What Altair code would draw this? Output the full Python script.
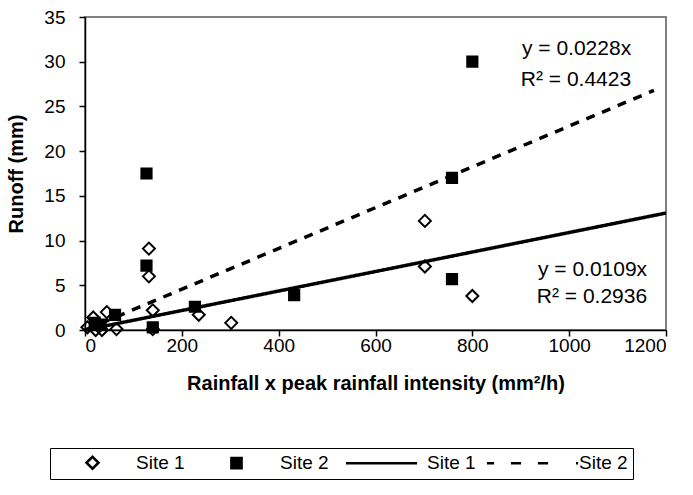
import altair as alt
import pandas as pd

# ---- data ----
site1_x = [5, 17, 22, 35, 45, 65, 132, 132, 140, 140, 235, 302, 702, 702, 800]
site1_y = [0.3, 1.4, 0.0, 0.0, 2.0, 0.1, 9.1, 6.0, 2.2, 0.1, 1.7, 0.8, 12.2, 7.1, 3.8]
site2_x = [20, 32, 62, 127, 127, 140, 227, 432, 758, 758, 800]
site2_y = [0.8, 0.6, 1.7, 17.5, 7.2, 0.3, 2.6, 3.9, 17.0, 5.7, 30.0]

trend_names = ["Site 1 trend", "Site 2 trend"]
trend_slopes = [0.0109, 0.0228]
trend_r2 = [0.2936, 0.4423]
trend_x_end = [1200, 1175]

# equation label anchors (data units)
eq_x = [1161, 1128]
eq_y1 = [6.0, 30.8]
eq_y2 = [3.0, 27.3]

x_ticks = [0, 200, 400, 600, 800, 1000, 1200]
y_ticks = [0, 5, 10, 15, 20, 25, 30, 35]

keys = ["Site 1 markers", "Site 2 markers", "Site 1 trend", "Site 2 trend"]
FONT = "Liberation Sans"

pts = pd.DataFrame({
    "x": site1_x + site2_x,
    "y": site1_y + site2_y,
    "series": ["Site 1 markers"] * len(site1_x) + ["Site 2 markers"] * len(site2_x),
})

fit_rows = []
for name, s, xe in zip(trend_names, trend_slopes, trend_x_end):
    fit_rows.append({"x": 0, "y": 0.0, "series": name})
    fit_rows.append({"x": xe, "y": s * xe, "series": name})
fit = pd.DataFrame(fit_rows)

ann_rows = []
for s, r2, ex, y1, y2 in zip(trend_slopes, trend_r2, eq_x, eq_y1, eq_y2):
    ann_rows.append({"x": ex, "y": y1, "text": f"y = {s}x"})
    ann_rows.append({"x": ex, "y": y2, "text": f"R² = {r2}"})
ann = pd.DataFrame(ann_rows)

xscale = alt.Scale(domain=[0, 1200], nice=False)
yscale = alt.Scale(domain=[0, 35], nice=False)

xenc = alt.X("x:Q", scale=xscale, axis=alt.Axis(
    values=x_ticks, format="d", title="Rainfall x peak rainfall intensity (mm²/h)",
    labelPadding=0, titlePadding=18))
yenc = alt.Y("y:Q", scale=yscale, axis=alt.Axis(
    values=y_ticks, title="Runoff (mm)", labelPadding=14, titlePadding=17))

# symbol shapes (unit = half symbol width). A leading lone "M" only widens the
# legend slot (Excel centres markers in a line-length slot); it draws nothing.
diamond_path = "M-1,0L0,-1L1,0L0,1Z"
square_path = "M-6.83,0M-0.85,-0.85L0.85,-0.85L0.85,0.85L-0.85,0.85Z"
solid_path = "M-7.4,0M-6.25,0L5.6,0"
dash_path = "M-8.1,0L-6.9,0M-4.1,0L-2.4,0M0.4,0L2.1,0M6.75,0L7.1,0"

leg = alt.Legend(
    title=" ", titleOrient="left", titlePadding=28, titleFontSize=19,
    orient="none", legendX=-35, legendY=431,
    direction="horizontal", columns=4,
    labelExpr="substring(datum.label, 0, 6)",
    labelFont=FONT, labelFontSize=19, labelColor="black",
    labelOffset=34, columnPadding=5, symbolSize=144,
    symbolStrokeWidth=2.5,
    strokeColor="black", padding=5, fillColor="white",
)

points = alt.Chart(pts).mark_point(
    filled=True, strokeWidth=2, opacity=1, size=144
).encode(
    x=xenc, y=yenc,
    shape=alt.Shape("series:N", scale=alt.Scale(
        domain=keys, range=[diamond_path, square_path, solid_path, dash_path]), legend=leg),
    fill=alt.Fill("series:N", scale=alt.Scale(
        domain=keys, range=["transparent", "black", "transparent", "transparent"]), legend=leg),
    stroke=alt.Stroke("series:N", scale=alt.Scale(
        domain=keys, range=["black", "black", "black", "black"]), legend=leg),
)

lines = alt.Chart(fit).mark_line(color="black", strokeWidth=3.5).encode(
    x=alt.X("x:Q", scale=xscale),
    y=alt.Y("y:Q", scale=yscale),
    detail="series:N",
    strokeDash=alt.StrokeDash("series:N", scale=alt.Scale(
        domain=trend_names, range=[[1, 0], [9, 8]]), legend=None),
)

labels = alt.Chart(ann).mark_text(
    align="right", baseline="alphabetic", font=FONT, fontSize=21, color="black"
).encode(
    x=alt.X("x:Q", scale=xscale),
    y=alt.Y("y:Q", scale=yscale),
    text="text:N",
)

chart = alt.layer(lines, points, labels).properties(
    width=581, height=313,
    autosize=alt.AutoSizeParams(type="none"),
    padding={"left": 85, "top": 17, "right": 27, "bottom": 165},
    background="white",
).configure_view(
    stroke="#808080", strokeWidth=2
).configure_axis(
    grid=False, domainColor="black", domainWidth=1.5,
    tickColor="black", tickWidth=1.5, tickSize=6,
    labelFont=FONT, labelFontSize=19, labelColor="black",
    titleFont=FONT, titleFontSize=20, titleFontWeight="bold", titleColor="black",
)

chart.save("out.html", embed_options={"renderer": "svg", "actions": False})
